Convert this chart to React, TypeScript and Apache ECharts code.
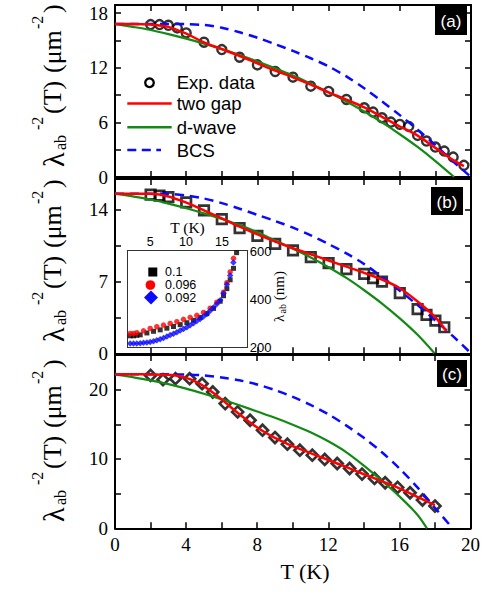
import React, { useEffect, useRef } from 'react';
import * as echarts from 'echarts';

// ---------- Panel (a) ----------
const A_T = [2, 2.5, 3, 3.5, 4, 5, 6, 7, 8, 9, 10, 11, 12, 13, 14, 14.5, 15, 15.5, 16, 16.5, 17, 17.5, 18, 18.5, 19, 19.6];
const A_EXP = [16.75, 16.75, 16.67, 16.38, 15.83, 14.81, 14.0, 13.16, 12.32, 11.59, 10.97, 9.98, 9.4, 8.52, 7.61, 7.13, 6.51, 6.03, 5.78, 5.56, 4.57, 3.95, 3.29, 2.85, 2.19, 1.28];
const A_TWO_T = [0, 1, 2, 3, 4, 5, 6, 7, 8, 9, 10, 11, 12, 13, 14, 15, 16, 17, 18, 19, 19.6];
const A_TWO = [16.82, 16.82, 16.75, 16.5, 15.75, 14.8, 14.05, 13.3, 12.5, 11.7, 10.95, 10.15, 9.3, 8.5, 7.65, 6.6, 5.55, 4.55, 3.2, 1.85, 1.2];
const A_DW_T = [0, 1, 2, 3, 4, 5, 6, 7, 8, 9, 10, 11, 12, 13, 14, 15, 16, 17, 18, 19.05];
const A_DW = [16.82, 16.5, 16.15, 15.7, 15.2, 14.65, 14.05, 13.4, 12.7, 11.95, 11.15, 10.25, 9.3, 8.3, 7.2, 6.0, 4.7, 3.3, 1.75, 0];
const A_BCS_T = [0, 1, 2, 3, 4, 5, 6, 7, 8, 9, 10, 11, 12, 13, 14, 15, 16, 17, 18, 19, 19.5, 20];
const A_BCS = [16.82, 16.82, 16.82, 16.82, 16.8, 16.7, 16.4, 15.9, 15.3, 14.6, 13.85, 13.05, 12.15, 11.05, 9.75, 8.3, 6.8, 5.2, 3.5, 1.7, 0.85, 0];

// ---------- Panel (b) ----------
const B_T = [2, 2.5, 3, 4, 5, 6, 7, 8, 9, 10, 11, 12, 13, 14, 14.5, 15, 16, 17, 17.5, 18, 18.5];
const B_EXP = [15.47, 15.37, 15.24, 14.72, 13.94, 13.09, 12.21, 11.46, 10.68, 10.03, 9.38, 8.79, 8.21, 7.75, 7.33, 7.0, 5.86, 4.3, 3.75, 3.19, 2.54];
const B_TWO_T = [0, 1, 2, 3, 4, 5, 6, 7, 8, 9, 10, 11, 12, 13, 14, 15, 16, 17, 18, 18.6];
const B_TWO = [15.57, 15.57, 15.55, 15.3, 14.7, 13.95, 13.15, 12.35, 11.6, 10.9, 10.25, 9.65, 9.05, 8.45, 7.85, 7.2, 6.35, 5.05, 3.5, 2.2];
const B_DW_T = [0, 1, 2, 3, 4, 5, 6, 7, 8, 9, 10, 11, 12, 13, 14, 15, 16, 17, 17.95];
const B_DW = [15.57, 15.3, 15.0, 14.6, 14.15, 13.65, 13.1, 12.5, 11.8, 11.0, 10.2, 9.35, 8.4, 7.35, 6.15, 4.85, 3.4, 1.8, 0];
const B_BCS_T = [0, 1, 2, 3, 4, 5, 6, 7, 8, 9, 10, 11, 12, 13, 14, 15, 16, 17, 18, 19, 20];
const B_BCS = [15.57, 15.57, 15.57, 15.55, 15.4, 15.1, 14.65, 14.1, 13.5, 12.9, 12.25, 11.5, 10.65, 9.75, 8.7, 7.45, 6.1, 4.7, 3.2, 1.65, 0];

// ---------- Panel (c) ----------
const C_T = [2, 2.7, 3.4, 4.2, 4.9, 5.5, 6.2, 6.9, 7.6, 8.3, 9, 9.7, 10.4, 11.1, 11.8, 12.5, 13.2, 13.9, 14.6, 15.2, 15.9, 16.6, 17.3, 18];
const C_EXP = [22.06, 21.44, 21.58, 21.58, 20.86, 19.66, 17.99, 16.79, 15.59, 14.15, 13.09, 12.13, 11.27, 10.55, 9.93, 9.35, 8.63, 7.82, 7.19, 6.57, 5.9, 5.13, 4.08, 3.21];
const C_TWO_T = [0, 1, 2, 3, 3.5, 4, 4.5, 5, 5.5, 6, 6.5, 7, 7.5, 8, 8.5, 9, 10, 11, 12, 13, 14, 15, 16, 17, 18];
const C_TWO = [22.21, 22.21, 22.2, 22.15, 22.0, 21.7, 21.2, 20.5, 19.6, 18.6, 17.5, 16.45, 15.45, 14.55, 13.75, 13.05, 11.85, 10.85, 9.85, 8.85, 7.8, 6.8, 5.75, 4.55, 3.35];
const C_DW_T = [0, 1, 2, 3, 4, 5, 6, 7, 8, 9, 10, 11, 12, 13, 14, 15, 16, 17, 17.55];
const C_DW = [22.21, 21.8, 21.35, 20.8, 20.15, 19.4, 18.6, 17.75, 16.85, 15.95, 14.95, 13.85, 12.55, 11.0, 9.05, 6.9, 4.6, 2.0, 0];
const C_BCS_T = [0, 1, 2, 3, 4, 5, 6, 7, 8, 9, 10, 11, 12, 13, 14, 15, 16, 17, 18, 19];
const C_BCS = [22.21, 22.21, 22.21, 22.21, 22.18, 22.05, 21.75, 21.35, 20.75, 19.95, 18.95, 17.8, 16.45, 14.85, 13.05, 11.0, 8.65, 5.95, 2.95, 0];

// ---------- Inset: lambda_ab (nm) vs T (K) ----------
const IN_BLACK_T = [2.2, 2.67, 3.13, 3.6, 4.53, 5.46, 6.39, 7.32, 8.25, 9.18, 10.11, 11.04, 11.97, 12.9, 13.83, 14.76, 15.22, 15.69, 16.15, 16.62, 17.05];
const IN_BLACK = [247, 247, 249, 251, 259, 266, 272, 279, 286, 294, 302, 312, 324, 340, 362, 392, 415, 445, 482, 530, 596];
const IN_RED_T = [2.2, 2.67, 3.13, 4.06, 4.99, 5.92, 6.85, 7.78, 8.71, 9.64, 10.57, 11.5, 12.43, 13.36, 14.29, 15.22, 15.69, 16.15, 16.62];
const IN_RED = [257, 257, 260, 268, 278, 285, 292, 299, 306, 316, 324, 333, 345, 363, 388, 430, 470, 515, 572];
const IN_BLUE_T = [2.2, 2.67, 3.13, 3.6, 4.06, 4.53, 4.99, 5.46, 5.92, 6.39, 6.85, 7.32, 7.78, 8.25, 8.71, 9.18, 9.64, 10.11, 10.57, 11.04, 11.5, 11.97, 12.43, 12.9, 13.36, 13.83, 14.29, 14.76, 15.22, 15.69, 16.15, 16.6];
const IN_BLUE = [215, 215, 215, 216, 218, 219, 221, 224, 228, 233, 238, 244, 250, 256, 262, 269, 276, 283, 291, 300, 309, 318, 328, 339, 352, 366, 380, 396, 425, 462, 500, 555];

const IN_X_LABELS = [5, 10, 15];
const IN_Y_LABELS = [200, 400, 600];
const LEGEND_MAIN = ['Exp. data', 'two gap', 'd-wave', 'BCS'];
const LEGEND_INSET = ['0.1', '0.096', '0.092'];
const PANEL_TAGS = ['(a)', '(b)', '(c)'];

const SERIF = "'Liberation Serif', 'Times New Roman', Times, serif";
const SANS = "'Liberation Sans', Arial, Helvetica, sans-serif";
const RED = '#ff0000';
const GREEN = '#148a14';
const BLUE = '#0a0aff';

const zip = (xs: number[], ys: number[]) => xs.map((x, i) => [x, ys[i]]);

function txt(x: number, y: number, text: string, size: number, family: string, extra: any = {}) {
  const align = extra.align || 'left';
  return {
    type: 'text',
    x,
    y,
    z: 50,
    style: {
      text,
      fontSize: size,
      fontFamily: family,
      fill: extra.fill || '#000',
      align,
      textAlign: align,
      verticalAlign: 'middle',
      textVerticalAlign: 'middle',
    },
  };
}

function yTitle(yBottom: number) {
  return {
    type: 'group',
    x: 0,
    y: yBottom,
    rotation: Math.PI / 2,
    children: [
      txt(0, 53, 'λ', 30, SERIF),
      txt(17, 60, 'ab', 16, SERIF),
      txt(37, 37, '-2', 16, SERIF),
      txt(53, 52.5, '(T)', 26, SERIF),
      txt(94, 52.5, '(μm', 26, SERIF),
      txt(138, 37, '-2', 16, SERIF),
      txt(154, 52.5, ')', 26, SERIF),
    ],
  };
}

const mainX = (grid: number, showLabels: boolean, position: string) => ({
  gridIndex: grid,
  type: 'value',
  min: 0,
  max: 20,
  interval: 2,
  position,
  axisLine: { show: true, onZero: false, lineStyle: { color: '#000', width: 2 } },
  axisTick: { show: true, inside: true, length: 6, lineStyle: { color: '#000', width: 1.5 } },
  axisLabel: {
    show: showLabels,
    margin: 7,
    color: '#000',
    fontFamily: SERIF,
    fontSize: 19,
    formatter: (v: number) => (Math.abs(v % 4) < 1e-6 ? String(v) : ''),
  },
  splitLine: { show: false },
});

const mainY = (grid: number, max: number, interval: number, step: number, showLabels: boolean, position: string) => ({
  gridIndex: grid,
  type: 'value',
  min: 0,
  max,
  interval,
  position,
  axisLine: { show: true, onZero: false, lineStyle: { color: '#000', width: 2 } },
  axisTick: { show: true, inside: true, length: 6, lineStyle: { color: '#000', width: 1.5 } },
  axisLabel: {
    show: showLabels,
    margin: 7,
    color: '#000',
    fontFamily: SERIF,
    fontSize: 19,
    formatter: (v: number) => (Math.abs(v / step - Math.round(v / step)) < 1e-6 ? String(Math.round(v)) : ''),
  },
  splitLine: { show: false },
});

const insetAxisBase = {
  gridIndex: 3,
  type: 'value',
  z: 12,
  axisLine: { show: true, onZero: false, lineStyle: { color: '#333', width: 1 } },
  axisTick: { show: false },
  splitLine: { show: false },
};

const expSeries = (name: string, xi: number, T: number[], V: number[], symbol: string, size: number, bw: number) => ({
  type: 'scatter',
  name,
  xAxisIndex: xi,
  yAxisIndex: xi,
  data: zip(T, V),
  symbol,
  symbolSize: size,
  itemStyle: { color: 'rgba(0,0,0,0)', borderColor: '#000', borderWidth: bw },
  z: 2,
});

const fitSeries = (name: string, xi: number, T: number[], V: number[], color: string, width: number, dashed: boolean) => ({
  type: 'line',
  name,
  xAxisIndex: xi,
  yAxisIndex: xi,
  data: zip(T, V),
  showSymbol: false,
  symbol: 'none',
  smooth: 0.3,
  lineStyle: { color, width, type: dashed ? [9, 6] : 'solid' },
  itemStyle: { color },
  z: 3,
});

const insetSeries = (name: string, T: number[], V: number[], symbol: string, size: number, color: string) => ({
  type: 'scatter',
  name,
  xAxisIndex: 6,
  yAxisIndex: 6,
  data: zip(T, V),
  symbol,
  symbolSize: size,
  itemStyle: { color },
  z: 20,
});

function buildOption() {
  const legendRows = [82.7, 103.5, 127.3, 150];
  const insetRows = [272, 285, 297.5];
  const tagBoxes = [
    { x: 435, y: 6, w: 32, h: 29 },
    { x: 431, y: 187, w: 32, h: 28 },
    { x: 437, y: 360, w: 30, h: 27 },
  ];
  const graphic: any[] = [];
  // Main legend (panel a)
  graphic.push({
    type: 'circle', z: 50,
    shape: { cx: 149.5, cy: legendRows[0], r: 4.3 },
    style: { fill: 'none', stroke: '#000', lineWidth: 2.3 },
  });
  graphic.push({ type: 'line', z: 50, shape: { x1: 127.3, y1: legendRows[1], x2: 171.7, y2: legendRows[1] }, style: { stroke: RED, lineWidth: 2.5 } });
  graphic.push({ type: 'line', z: 50, shape: { x1: 127.3, y1: legendRows[2], x2: 171.7, y2: legendRows[2] }, style: { stroke: GREEN, lineWidth: 2.5 } });
  graphic.push({ type: 'line', z: 50, shape: { x1: 127.3, y1: legendRows[3], x2: 161, y2: legendRows[3] }, style: { stroke: BLUE, lineWidth: 2.5, lineDash: [9, 5.5] } });
  LEGEND_MAIN.forEach((t, i) => graphic.push(txt(176.7, legendRows[i], t, 18.5, SANS)));
  // Inset legend
  graphic.push({ type: 'rect', z: 50, shape: { x: 148.3, y: insetRows[0] - 4.5, width: 9, height: 9 }, style: { fill: '#000' } });
  graphic.push({ type: 'circle', z: 50, shape: { cx: 150.4, cy: insetRows[1], r: 4.8 }, style: { fill: RED } });
  graphic.push({
    type: 'polygon', z: 50,
    shape: { points: [[151, insetRows[2] - 7], [158, insetRows[2]], [151, insetRows[2] + 7], [144, insetRows[2]]] },
    style: { fill: BLUE },
  });
  LEGEND_INSET.forEach((t, i) => graphic.push(txt(165, insetRows[i], t, 12.5, SANS)));
  // Panel tags
  PANEL_TAGS.forEach((t, i) => {
    const b = tagBoxes[i];
    graphic.push({ type: 'rect', z: 60, shape: { x: b.x, y: b.y, width: b.w, height: b.h }, style: { fill: '#000' } });
    graphic.push({ ...txt(b.x + b.w / 2, b.y + b.h / 2 + 1, t, 17, SANS, { align: 'center', fill: '#fff' }), z: 61 });
  });
  // Y titles
  graphic.push(yTitle(167));
  graphic.push(yTitle(342));
  graphic.push(yTitle(522));
  // X title
  graphic.push(txt(305, 571, 'T (K)', 22, SERIF, { align: 'center' }));
  // Inset titles
  graphic.push(txt(187.5, 227, 'T (K)', 15.5, SERIF, { align: 'center' }));
  graphic.push({
    type: 'group',
    x: 0,
    y: 322,
    rotation: Math.PI / 2,
    children: [
      txt(0, 278.5, 'λ', 15, SERIF),
      txt(8.5, 282.5, 'ab', 10, SERIF),
      txt(18, 278.5, ' (nm)', 15, SERIF),
    ],
  });

  return {
    animation: false,
    backgroundColor: '#fff',
    grid: [
      { left: 115, top: 5, width: 356, height: 172 },
      { left: 115, top: 179, width: 356, height: 174.3 },
      { left: 115, top: 355, width: 356, height: 173.3 },
      { left: 127.3, top: 250.5, width: 120.4, height: 96.5, show: true, backgroundColor: '#fff', borderWidth: 0, z: 1 },
    ],
    xAxis: [
      mainX(0, false, 'bottom'),
      mainX(0, false, 'top'),
      mainX(1, false, 'bottom'),
      mainX(1, false, 'top'),
      mainX(2, true, 'bottom'),
      mainX(2, false, 'top'),
      {
        ...insetAxisBase, min: 1.8, max: 18.6, position: 'top',
        axisLabel: { show: true, customValues: IN_X_LABELS, margin: 2, color: '#000', fontFamily: SANS, fontSize: 12.5 },
      },
      { ...insetAxisBase, min: 1.8, max: 18.6, position: 'bottom', axisLabel: { show: false } },
    ],
    yAxis: [
      mainY(0, 18.9, 3, 6, true, 'left'),
      mainY(0, 18.9, 3, 6, false, 'right'),
      mainY(1, 17, 3.5, 7, true, 'left'),
      mainY(1, 17, 3.5, 7, false, 'right'),
      mainY(2, 25, 5, 10, true, 'left'),
      mainY(2, 25, 5, 10, false, 'right'),
      {
        ...insetAxisBase, min: 200, max: 605, position: 'right',
        axisLabel: { show: true, customValues: IN_Y_LABELS, margin: 2, color: '#000', fontFamily: SANS, fontSize: 13 },
      },
      { ...insetAxisBase, min: 200, max: 605, position: 'left', axisLabel: { show: false } },
    ],
    graphic,
    series: [
      expSeries('Exp. data', 0, A_T, A_EXP, 'circle', 9, 2.4),
      expSeries('Exp. data (b)', 2, B_T, B_EXP, 'rect', 9.5, 2.7),
      expSeries('Exp. data (c)', 4, C_T, C_EXP, 'diamond', 11, 2.7),
      fitSeries('d-wave', 0, A_DW_T, A_DW, GREEN, 2.2, false),
      fitSeries('BCS', 0, A_BCS_T, A_BCS, BLUE, 2.5, true),
      fitSeries('two gap', 0, A_TWO_T, A_TWO, RED, 2.5, false),
      fitSeries('d-wave (b)', 2, B_DW_T, B_DW, GREEN, 2.2, false),
      fitSeries('BCS (b)', 2, B_BCS_T, B_BCS, BLUE, 2.5, true),
      fitSeries('two gap (b)', 2, B_TWO_T, B_TWO, RED, 2.5, false),
      fitSeries('d-wave (c)', 4, C_DW_T, C_DW, GREEN, 2.2, false),
      fitSeries('BCS (c)', 4, C_BCS_T, C_BCS, BLUE, 2.5, true),
      fitSeries('two gap (c)', 4, C_TWO_T, C_TWO, RED, 2.5, false),
      insetSeries('0.1', IN_BLACK_T, IN_BLACK, 'rect', 5, '#000'),
      insetSeries('0.096', IN_RED_T, IN_RED, 'circle', 5.5, RED),
      insetSeries('0.092', IN_BLUE_T, IN_BLUE, 'diamond', 6.5, BLUE),
    ],
  };
}

export default function App() {
  const ref = useRef<HTMLDivElement>(null);
  useEffect(() => {
    if (!ref.current) return;
    const chart = echarts.init(ref.current, undefined, { renderer: 'svg' });
    chart.setOption(buildOption() as any);
    return () => chart.dispose();
  }, []);
  return <div ref={ref} style={{ position: 'absolute', left: 0, top: 0, width: 483, height: 594 }} />;
}
